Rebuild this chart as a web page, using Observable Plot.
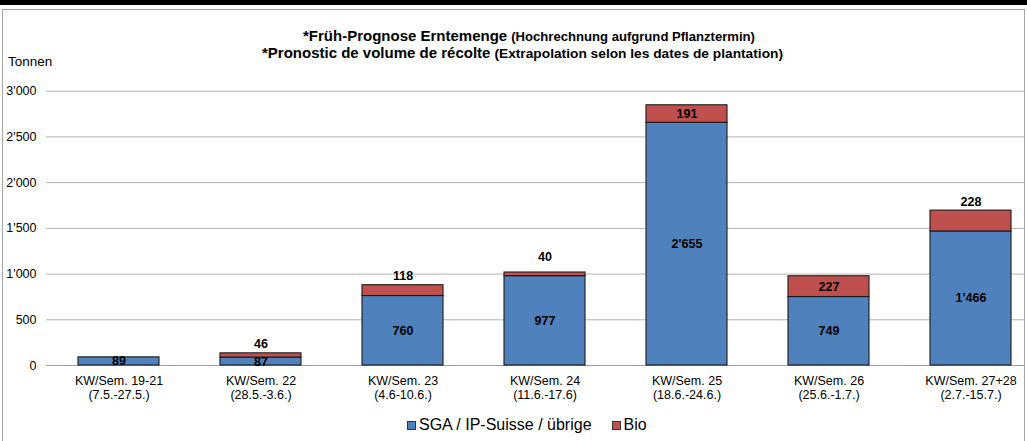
<!DOCTYPE html>
<html><head><meta charset="utf-8">
<script src="https://cdn.jsdelivr.net/npm/d3@7"></script>
<script src="https://cdn.jsdelivr.net/npm/@observablehq/plot@0.6"></script>
<style>
body{margin:0;background:#fff;font-family:"Liberation Sans",Arial,sans-serif;}
#wrap{position:relative;width:1027px;height:441px;overflow:hidden;background:#fff;}
#topbar{position:absolute;left:0;top:0;width:1027px;height:5px;background:#000;}
#frame{position:absolute;left:2px;top:9px;width:1023px;height:440px;border:1px solid #a6a6a6;box-sizing:border-box;}
#chart{position:absolute;left:0;top:0;}
#titles{position:absolute;left:0;top:0;}
#unit{position:absolute;left:8px;top:54px;font-size:13.5px;color:#000;}
#legend{position:absolute;left:407px;top:416px;font-size:16px;color:#000;white-space:nowrap;display:flex;align-items:center;}
.sw{display:inline-block;width:7px;height:7px;border:1px solid #333;margin-right:3px;}
</style></head>
<body>
<div id="wrap">
  <div id="topbar"></div>
  <div id="frame"></div>
  <div id="chart"></div>
  <svg id="titles" width="1027" height="70" font-family="'Liberation Sans', Arial, sans-serif" font-weight="bold" fill="#000">
    <text id="t1a" x="303" y="41" font-size="15">*Früh-Prognose Erntemenge</text>
    <text id="t1b" y="41" font-size="12">(Hochrechnung aufgrund Pflanztermin)</text>
    <text id="t2a" x="262" y="58" font-size="15">*Pronostic de volume de récolte</text>
    <text id="t2b" y="58" font-size="12">(Extrapolation selon les dates de plantation)</text>
  </svg>
  <div id="unit">Tonnen</div>
  <div id="legend"><span class="sw" id="sw1"></span><span>SGA / IP-Suisse / übrige</span><span style="display:inline-block;width:20px"></span><span class="sw" id="sw2"></span><span>Bio</span></div>
</div>
<script>
const weeks = ["KW/Sem. 19-21", "KW/Sem. 22", "KW/Sem. 23", "KW/Sem. 24", "KW/Sem. 25", "KW/Sem. 26", "KW/Sem. 27+28"];
const dates = ["(7.5.-27.5.)", "(28.5.-3.6.)", "(4.6-10.6.)", "(11.6.-17.6)", "(18.6.-24.6.)", "(25.6.-1.7.)", "(2.7.-15.7.)"];
const sgaValues = [89, 87, 760, 977, 2655, 749, 1466];
const bioValues = [0, 46, 118, 40, 191, 227, 228];
const seriesNames = ["SGA / IP-Suisse / übrige", "Bio"];
const seriesColors = ["#4F81BD", "#C0504D"];
const yTicks = [0, 500, 1000, 1500, 2000, 2500, 3000];

document.getElementById("sw1").style.background = seriesColors[0];
document.getElementById("sw2").style.background = seriesColors[1];

// title layout: small part follows the bold part and is stretched to the original line end
function placeTitle(a, b, end) {
  const ea = document.getElementById(a), eb = document.getElementById(b);
  const xa = +ea.getAttribute("x");
  const wa = ea.getComputedTextLength();
  const xb = xa + wa + 4;
  eb.setAttribute("x", xb);
  eb.setAttribute("textLength", end - xb);
  eb.setAttribute("lengthAdjust", "spacingAndGlyphs");
}
placeTitle("t1a", "t1b", 755);
placeTitle("t2a", "t2b", 783);

const categories = weeks.map((w, i) => w + "\n" + dates[i]);
const fmt = d3.formatLocale({decimal: ".", thousands: "'", grouping: [3], currency: ["", ""]}).format(",d");

const rows = [];
categories.forEach((c, i) => {
  rows.push({cat: c, series: seriesNames[0], y1: 0, y2: sgaValues[i], v: sgaValues[i]});
  if (bioValues[i] > 0) rows.push({cat: c, series: seriesNames[1], y1: sgaValues[i], y2: sgaValues[i] + bioValues[i], v: bioValues[i]});
});
const sgaRows = rows.filter(r => r.series === seriesNames[0]);
const bioRows = rows.filter(r => r.series === seriesNames[1]);
// labels of small Bio segments (and the last one) sit above the bar in the original
const outside = bioRows.filter(r => r.v < 150 || r.v === 228);
const inside = bioRows.filter(r => !outside.includes(r));
const outsideNear = outside.filter(r => r.v >= 45);
const outsideFar = outside.filter(r => r.v < 45);

const labelOpts = {x: "cat", text: d => fmt(d.v), fontWeight: "bold", fontSize: 12.5, fill: "#000"};

const chart = Plot.plot({
  width: 1027,
  height: 441,
  marginTop: 90.7,
  marginBottom: 76,
  marginLeft: 46,
  marginRight: 3,
  style: {fontFamily: "'Liberation Sans', Arial, sans-serif", fontSize: "12.5px", color: "#000", background: "transparent"},
  x: {domain: categories, paddingInner: 0.431, paddingOuter: 0.154, align: 0.7},
  y: {domain: [0, 3000]},
  color: {domain: seriesNames, range: seriesColors},
  marks: [
    Plot.gridY(yTicks, {stroke: "#b3b3b3", strokeOpacity: 1}),
    Plot.ruleY([0], {stroke: "#a0a0a0"}),
    Plot.rectY(rows, {x: "cat", y1: "y1", y2: "y2", fill: "series", stroke: "#1a1a1a", strokeWidth: 1.1}),
    Plot.text(sgaRows, {...labelOpts, y: d => (d.y1 + d.y2) / 2}),
    Plot.text(inside, {...labelOpts, y: d => (d.y1 + d.y2) / 2}),
    Plot.text(outsideNear, {...labelOpts, y: "y2", lineAnchor: "bottom", dy: -5}),
    Plot.text(outsideFar, {...labelOpts, y: "y2", lineAnchor: "bottom", dy: -12}),
    Plot.axisY(yTicks, {tickSize: 0, tickPadding: 10, tickFormat: fmt, label: null, fill: "#000"}),
    Plot.axisX({tickSize: 0, tickPadding: 9, label: null, lineHeight: 1.15, fill: "#000"})
  ]
});
document.getElementById("chart").appendChild(chart);
</script>
</body></html>
